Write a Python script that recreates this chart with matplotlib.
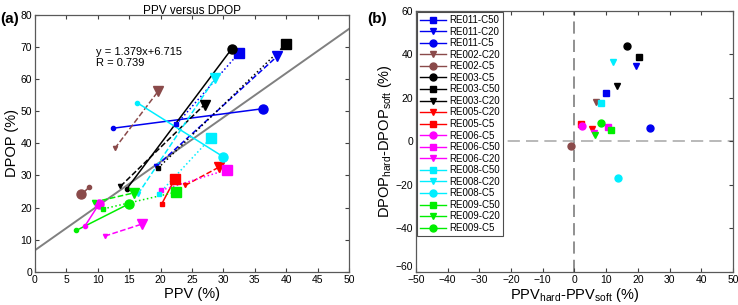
import numpy as np
import matplotlib
matplotlib.use("Agg")
from matplotlib import pyplot as plt
from matplotlib import transforms

plt.rcParams['font.family'] = ['Liberation Sans', 'DejaVu Sans']
plt.rcParams['mathtext.fontset'] = 'custom'
plt.rcParams['mathtext.rm'] = 'Liberation Sans'

# series names (legend order of panel b)
labels = ['RE011-C50', 'RE011-C20', 'RE011-C5', 'RE002-C20', 'RE002-C5',
          'RE003-C5', 'RE003-C50', 'RE003-C20', 'RE005-C20', 'RE005-C5',
          'RE006-C5', 'RE006-C50', 'RE006-C20', 'RE008-C50', 'RE008-C20',
          'RE008-C5', 'RE009-C50', 'RE009-C20', 'RE009-C5']

# soft / hard values (%)
ppv_soft = [22.5, 19.3, 12.4, 12.7, 8.6, 14.6, 19.6, 13.6, 23.9, 20.2,
            7.9, 20.1, 11.1, 19.7, 16.4, 16.3, 10.9, 9.4, 6.6]
dpop_soft = [45.9, 32.8, 44.7, 38.4, 26.3, 25.8, 32.3, 26.6, 26.9, 21.2,
             14.1, 25.4, 11.1, 24.2, 24.2, 52.6, 19.6, 21.7, 12.9]
ppv_hard = [32.4, 38.6, 36.3, 19.6, 7.4, 31.3, 39.9, 27.0, 29.3, 22.3,
            10.2, 30.6, 17.1, 28.0, 28.7, 29.9, 22.4, 15.8, 14.9]
dpop_hard = [68.0, 67.2, 50.8, 56.2, 24.1, 69.4, 70.8, 52.1, 32.6, 29.0,
             21.1, 31.8, 14.9, 41.7, 60.4, 35.9, 24.8, 24.6, 21.1]

fit_slope = 1.379
fit_icpt = 6.715
fit_r = 0.739

# styles
subj_col = {'RE011': '#0000f0', 'RE002': '#8a4a4a', 'RE003': 'black',
            'RE005': '#ff0000', 'RE006': '#ff00ff', 'RE008': '#00eeff',
            'RE009': '#00ee00'}
cond_marker = {'C50': 's', 'C20': 'v', 'C5': 'o'}
cond_ls = {'C50': ':', 'C20': '--', 'C5': '-'}
marker_fix = {'RE005-C5': 's'}

fig = plt.figure(figsize=(7.38, 3.05), dpi=100)
axa = fig.add_axes([0.0474, 0.109, 0.4256, 0.842])
axb = fig.add_axes([0.5637, 0.109, 0.4295, 0.856])

# ---- panel a
xx = np.array([0, 50])
axa.plot(xx, fit_slope * xx + fit_icpt, color='0.5', lw=1.4, zorder=1)
for i, lab in enumerate(labels):
    subj, cond = lab.split('-')
    c = subj_col[subj]
    m = marker_fix.get(lab, cond_marker[cond])
    axa.plot([ppv_soft[i], ppv_hard[i]], [dpop_soft[i], dpop_hard[i]],
             color=c, ls=cond_ls[cond], lw=1.1, zorder=2)
    axa.plot(ppv_soft[i], dpop_soft[i], marker=m, color=c, ms=3, zorder=3)
    axa.plot(ppv_hard[i], dpop_hard[i], marker=m, color=c, ms=6.5, zorder=3)

axa.text(9.7, 68.6, 'y = %.3fx+%.3f' % (fit_slope, fit_icpt), fontsize=8, va='center')
axa.text(9.7, 65.0, 'R = %.3f' % fit_r, fontsize=8, va='center')
axa.set_xlim(0, 50)
axa.set_ylim(0, 80)
axa.set_xticks(np.arange(0, 51, 5))
axa.set_yticks(np.arange(0, 81, 10))
axa.set_xlabel('PPV (%)', fontsize=10.5, labelpad=2)
axa.set_ylabel('DPOP (%)', fontsize=10.5, labelpad=1)
axa.set_title('PPV versus DPOP', fontsize=8.5, pad=1)
fig.text(0.0, 0.925, '(a)', fontsize=11, fontweight='bold')

# ---- panel b
axb.axvline(0, color='0.45', ls=(0, (8, 4)), lw=1.1, zorder=1)
axb.axhline(0, color='0.65', ls=(0, (8, 4)), lw=1.1, zorder=1)
for i, lab in enumerate(labels):
    subj, cond = lab.split('-')
    c = subj_col[subj]
    m = marker_fix.get(lab, cond_marker[cond])
    axb.plot(ppv_hard[i] - ppv_soft[i], dpop_hard[i] - dpop_soft[i],
             marker=m, color=c, ms=5, ls='-', lw=1, label=lab, zorder=3)
axb.set_xlim(-50, 50)
axb.set_ylim(-60, 60)
axb.set_xticks(np.arange(-50, 51, 10))
axb.set_yticks(np.arange(-60, 61, 20))
axb.set_xlabel(r'PPV$_{\mathrm{hard}}$-PPV$_{\mathrm{soft}}$ (%)', fontsize=10.5, labelpad=1)
axb.set_ylabel(r'DPOP$_{\mathrm{hard}}$-DPOP$_{\mathrm{soft}}$ (%)', fontsize=10.5, labelpad=1)
leg = axb.legend(loc='upper left', fontsize=7, labelspacing=0.16, handlelength=2.6,
                 borderaxespad=0.15, borderpad=0.3, handletextpad=0.4,
                 fancybox=False, framealpha=1)
leg.get_frame().set_edgecolor('0.3')
leg.get_frame().set_linewidth(0.8)
fig.text(0.497, 0.925, '(b)', fontsize=11, fontweight='bold')

for ax in (axa, axb):
    ax.tick_params(direction='in', top=True, right=True, labelsize=7.5,
                   length=3, pad=2, colors='0.25', labelcolor='black')
    for sp in ax.spines.values():
        sp.set_color('0.35')
        sp.set_linewidth(0.9)

# the -60 and -50 labels meet in the corner, lift -60 a little
fig.canvas.draw()
lbl = axb.get_yticklabels()[0]
lbl.set_transform(lbl.get_transform() + transforms.ScaledTranslation(0, 4 / 72, fig.dpi_scale_trans))

fig.savefig('out.png', dpi=100)
